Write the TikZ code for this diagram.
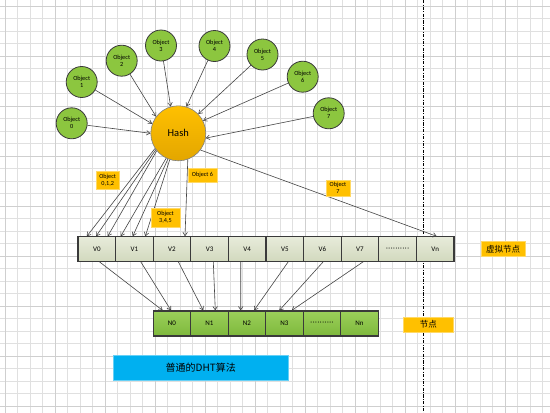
\documentclass[tikz,border=0pt]{standalone}
\usepackage{fontspec}
\setmainfont{Carlito}
\newfontfamily\cjk{Noto Sans CJK SC}
\usetikzlibrary{arrows.meta}
\definecolor{gridminor}{HTML}{E0E0E0}
\definecolor{gridmajor}{HTML}{CFCFCF}
\definecolor{objgreen}{HTML}{8CC63F}
\definecolor{ngreenA}{HTML}{9BD05A}
\definecolor{ngreenB}{HTML}{7EB83C}
\definecolor{vtop}{HTML}{E7EBDA}
\definecolor{vbot}{HTML}{D2D9BE}
\definecolor{hashtop}{HTML}{FFC000}
\definecolor{hashbot}{HTML}{E3A600}
\definecolor{lblyel}{HTML}{FFC000}
\definecolor{dhtblue}{HTML}{00B0F0}
\definecolor{edgec}{HTML}{3A3A3A}
\definecolor{connc}{HTML}{454545}
\tikzset{
  objnode/.style={circle, draw=edgec, line width=0.8pt, fill=objgreen, minimum size=31pt, inner sep=0pt, align=center, font=\fontsize{6.3}{7}\selectfont},
  hashnode/.style={circle, draw=gray, line width=0.6pt, top color=hashtop, bottom color=hashbot, minimum size=55pt, inner sep=0pt, font=\fontsize{10.5}{12}\selectfont},
  vcell/.style={rectangle, draw=edgec, line width=1.1pt, top color=vtop, bottom color=vbot, minimum width=37.6pt, minimum height=24.3pt, inner sep=0pt, font=\fontsize{7}{8}\selectfont},
  ncell/.style={rectangle, draw=edgec, line width=1.1pt, top color=ngreenA, bottom color=ngreenB, minimum width=37.5pt, minimum height=25pt, inner sep=0pt, font=\fontsize{7}{8}\selectfont},
  tagbox/.style={rectangle, fill=lblyel, draw=lblyel!60!white, line width=0.4pt, inner sep=0pt, align=center, font=\fontsize{6.2}{7}\selectfont},
  arr/.style={draw=connc, line width=0.6pt, -{Straight Barb[length=3.5pt,width=4.5pt]}},
}
\newcommand{\celldots}{·\kern0.6pt·\kern0.6pt·\kern0.6pt·\kern0.6pt·\kern0.6pt·\kern0.6pt·\kern0.6pt·\kern0.6pt·\kern0.6pt·}
\begin{document}
\begin{tikzpicture}[x=1pt,y=-1pt]
\useasboundingbox (0,0) rectangle (550,413);
\fill[white] (0,0) rectangle (550,413);
% grid
\foreach \xx in {5,17.5,...,543} \draw[gridminor, line width=0.5pt] (\xx,0) -- (\xx,413);
\foreach \yy in {6,18.5,...,412} \draw[gridminor, line width=0.5pt] (0,\yy) -- (550,\yy);
\foreach \xx in {5,55,...,506} \draw[gridmajor, line width=0.7pt] (\xx,0) -- (\xx,413);
\foreach \yy in {6,56,...,407} \draw[gridmajor, line width=0.7pt] (0,\yy) -- (550,\yy);

% dashed separator
\coordinate (dtop) at (423.3,0);
\coordinate (dbot) at (423.3,413);
\draw[black, line width=1.1pt, dash pattern=on 3.2pt off 1.3pt on 1pt off 1.3pt] (dtop) -- (dbot);

% objects
\node[objnode] (o0) at (71.7,123.3) {Object\\0};
\node[objnode] (o1) at (81.7,82) {Object\\1};
\node[objnode] (o2) at (121.7,60.7) {Object\\2};
\node[objnode] (o3) at (161,45.5) {Object\\3};
\node[objnode] (o4) at (214.5,46) {Object\\4};
\node[objnode] (o5) at (262.5,54.5) {Object\\5};
\node[objnode] (o6) at (302.7,76.7) {Object\\6};
\node[objnode] (o7) at (328.7,113.3) {Object\\7};

% hash
\node[hashnode] (hash) at (178.3,133.3) {Hash};

\draw[arr] (o0) -- (hash.180);
\draw[arr] (o1) -- (hash.160);
\draw[arr] (o2) -- (hash.143);
\draw[arr] (o3) -- (hash.106);
\draw[arr] (o4) -- (hash.73);
\draw[arr] (o5) -- (hash.44);
\draw[arr] (o6) -- (hash.27);
\draw[arr] (o7) -- (hash.350);

% virtual nodes
\foreach \lab [count=\k from 0] in {V0,V1,V2,V3,V4,V5,V6,V7,{\celldots},Vn}
  \node[vcell] (v\k) at (96.8+37.6*\k,249) {\lab};

% physical nodes
\foreach \lab [count=\k from 0] in {N0,N1,N2,N3,{\celldots},Nn}
  \node[ncell] (n\k) at (172+37.5*\k,323.5) {\lab};

% hash to virtual
\draw[arr] (hash.213) -- ([xshift=-10pt]v0.north);
\draw[arr] (hash.216) -- ([xshift=-0.8pt]v0.north);
\draw[arr] (hash.219) -- ([xshift=10.9pt]v0.north);
\draw[arr] (hash.244) -- ([xshift=-13.7pt]v1.north);
\draw[arr] (hash.248) -- ([xshift=-1.7pt]v1.north);
\draw[arr] (hash.252) -- ([xshift=10.9pt]v1.north);
\draw[arr] (hash.290) -- ([xshift=13pt]v2.north);
\draw[arr] (hash.323) -- ([xshift=1.5pt]v9.north);

% virtual to physical
\draw[arr] ([xshift=2.5pt]v0.south) -- ([xshift=-9.3pt]n0.north);
\draw[arr] ([xshift=6.3pt]v1.south) -- ([xshift=-1pt]n0.north);
\draw[arr] ([xshift=6.3pt]v2.south) -- ([xshift=-6.2pt]n1.north);
\draw[arr] ([xshift=3.7pt]v3.south) -- ([xshift=5.8pt]n1.north);
\draw[arr] ([xshift=-6.5pt]v4.south) -- ([xshift=-6.3pt]n2.north);
\draw[arr] ([xshift=3.5pt]v5.south) -- ([xshift=7pt]n2.north);
\draw[arr] ([xshift=0.9pt]v6.south) -- ([xshift=-5.2pt]n3.north);
\draw[arr] ([xshift=3.3pt]v7.south) -- ([xshift=7.2pt]n3.north);

% tags
\node[tagbox, minimum width=23.3pt, minimum height=18.3pt] (t012) at (107.7,180.2) {Object\\0,1,2};
\node[tagbox, minimum width=28.4pt, minimum height=13.4pt] (t6) at (202.5,175) {Object 6};
\node[tagbox, minimum width=29pt, minimum height=18.4pt] (t345) at (165.5,217.5) {Object\\3,4,5};
\node[tagbox, minimum width=24pt, minimum height=16pt] (t7) at (338,188) {Object\\7};

\node[tagbox, minimum width=44.3pt, minimum height=14.3pt, font=\cjk\fontsize{8.5}{9}\selectfont] (vlab) at (503,248.8) {虚拟节点};
\node[tagbox, minimum width=50pt, minimum height=15pt, font=\cjk\fontsize{8.5}{9}\selectfont] (nlab) at (428.3,324.2) {节点};
\node[rectangle, fill=dhtblue, draw=dhtblue!60!white, line width=0.4pt, minimum width=175pt, minimum height=24.3pt, inner sep=0pt, font=\cjk\fontsize{10}{11}\selectfont] (dht) at (200.8,367.8) {普通的DHT算法};
\end{tikzpicture}
\end{document}
